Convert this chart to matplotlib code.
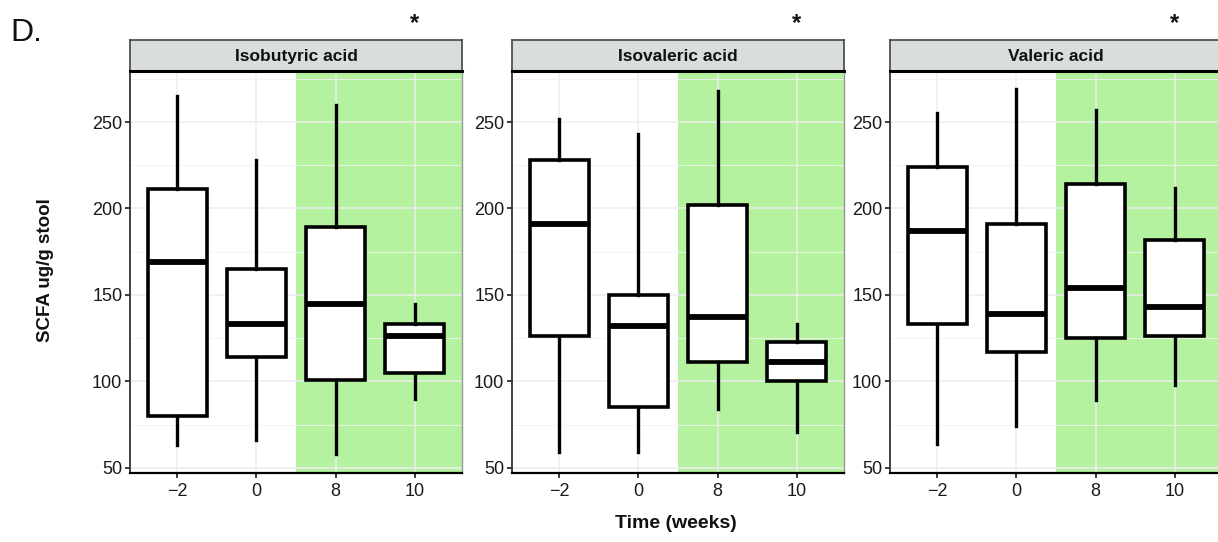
import matplotlib
matplotlib.use("Agg")
import matplotlib.pyplot as plt

plt.rcParams['font.family'] = ['Liberation Sans', 'DejaVu Sans']

# Time points and panel titles
weeks = ["\u22122", "0", "8", "10"]
acids = ["Isobutyric acid", "Isovaleric acid", "Valeric acid"]

# Box statistics per acid: whisker low, Q1, median, Q3, whisker high
isobutyric_low = [63, 66, 58, 90]
isobutyric_q1 = [80, 114, 101, 105]
isobutyric_med = [169, 133, 145, 126]
isobutyric_q3 = [211, 165, 189, 133]
isobutyric_high = [265, 228, 260, 145]

isovaleric_low = [59, 59, 84, 71]
isovaleric_q1 = [126, 85, 111, 100]
isovaleric_med = [191, 132, 137, 111]
isovaleric_q3 = [228, 150, 202, 123]
isovaleric_high = [252, 243, 268, 133]

valeric_low = [64, 74, 89, 98]
valeric_q1 = [133, 117, 125, 126]
valeric_med = [187, 139, 154, 143]
valeric_q3 = [224, 191, 214, 182]
valeric_high = [255, 269, 257, 212]

stats = [
    (isobutyric_low, isobutyric_q1, isobutyric_med, isobutyric_q3, isobutyric_high),
    (isovaleric_low, isovaleric_q1, isovaleric_med, isovaleric_q3, isovaleric_high),
    (valeric_low, valeric_q1, valeric_med, valeric_q3, valeric_high),
]

W, H = 1218, 542
fig = plt.figure(figsize=(W / 100, H / 100), dpi=100)

panel_left = [130, 512, 890]
panel_w = 332
panel_top, panel_bottom = 71, 473
strip_top = 40

green = "#b4f2a0"
ylim = (47.0, 279.5)

for k, (left, acid, st) in enumerate(zip(panel_left, acids, stats)):
    ax = fig.add_axes([left / W, 1 - panel_bottom / H, panel_w / W,
                       (panel_bottom - panel_top) / H])
    ax.set_xlim(-0.6, 3.6)
    ax.set_ylim(*ylim)
    # treatment period shading (weeks 8 and 10)
    ax.axvspan(1.5, 3.6, color=green, lw=0, zorder=0)
    # grid
    for y in [75, 125, 175, 225, 275]:
        ax.axhline(y, color="#f3f3f3", lw=0.6, zorder=0.5)
    for y in [50, 100, 150, 200, 250]:
        ax.axhline(y, color="#ededed", lw=1.1, zorder=0.5)
    for x in range(4):
        ax.axvline(x, color="#ededed", lw=1.1, zorder=0.5)

    low, q1, med, q3, high = st
    bxp_stats = []
    for i in range(4):
        bxp_stats.append(dict(whislo=low[i], q1=q1[i], med=med[i],
                              q3=q3[i], whishi=high[i], fliers=[],
                              label=weeks[i]))
    ax.bxp(bxp_stats, positions=range(4), widths=0.75, showfliers=False,
           patch_artist=True,
           boxprops=dict(facecolor="white", edgecolor="black", linewidth=2.6),
           medianprops=dict(color="black", linewidth=4.2, solid_capstyle="butt"),
           whiskerprops=dict(color="black", linewidth=2.4),
           capprops=dict(linewidth=0), manage_ticks=False, zorder=3)

    ax.set_xticks(range(4))
    ax.set_xticklabels(weeks)
    ax.set_yticks([50, 100, 150, 200, 250])
    ax.tick_params(axis="both", labelsize=13, colors="#1a1a1a",
                   length=3.5, width=1.2, pad=2)
    ax.tick_params(axis="x", pad=4)
    ax.spines["top"].set_visible(False)
    ax.spines["left"].set_color("#333333")
    ax.spines["left"].set_linewidth(1.3)
    ax.spines["bottom"].set_color("black")
    ax.spines["bottom"].set_linewidth(1.6)
    ax.spines["right"].set_color("#999999")
    ax.spines["right"].set_linewidth(1.0)
    ax.set_facecolor("white")

    # facet strip
    sax = fig.add_axes([left / W, 1 - panel_top / H, panel_w / W,
                        (panel_top - strip_top) / H])
    sax.set_xticks([])
    sax.set_yticks([])
    sax.set_facecolor("#d9dddc")
    for s in sax.spines.values():
        s.set_color("#444444")
        s.set_linewidth(1.2)
    sax.spines["bottom"].set_color("black")
    sax.spines["bottom"].set_linewidth(2.2)
    sax.text(0.5, 0.48, acid, ha="center", va="center", fontsize=12.5,
             fontweight="bold", color="#111111", transform=sax.transAxes)

    # significance marker above week 10
    star_x = left + panel_w * (3 + 0.6) / 4.2
    fig.text(star_x / W, 1 - 24 / H, "*", ha="center", va="center",
             fontsize=17, fontweight="bold", color="#111111")

fig.text(10 / W, 1 - 33 / H, "D.", ha="left", va="center", fontsize=23,
         color="#111111")
fig.text(45 / W, 1 - 270 / H, "SCFA ug/g stool", rotation=90, ha="center",
         va="center", fontsize=13.5, fontweight="bold", color="#111111")
fig.text(676 / W, 1 - 524 / H, "Time (weeks)", ha="center", va="center",
         fontsize=14, fontweight="bold", color="#111111")

fig.savefig("out.png", dpi=100)
